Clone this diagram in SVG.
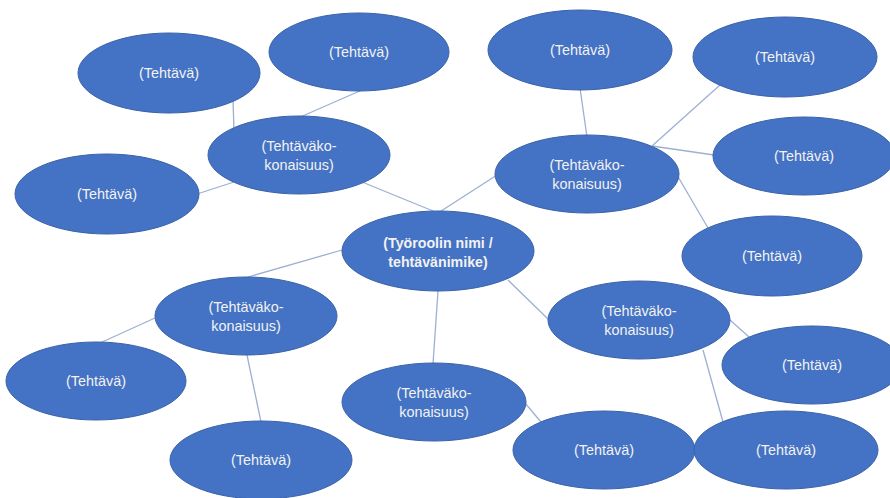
<svg xmlns="http://www.w3.org/2000/svg" width="890" height="498" viewBox="0 0 890 498">
<style>
.n{fill:#4472C4;stroke:#3A62A8;stroke-width:1}
.t{font-family:"Liberation Sans",Arial,sans-serif;font-size:14.4px;fill:#F2F2F2;text-anchor:middle}
.b{font-weight:bold;font-size:14.2px}
.c line{stroke:#9DB0D3;stroke-width:1.3}
</style>
<rect width="890" height="498" fill="#FFFFFF"/>
<g id="connectors" class="c">
<line x1="233" y1="100" x2="234" y2="130"/>
<line x1="298" y1="118" x2="362" y2="90"/>
<line x1="197" y1="194" x2="234" y2="182"/>
<line x1="362" y1="182" x2="438" y2="213"/>
<line x1="497" y1="175" x2="438" y2="213"/>
<line x1="580" y1="88" x2="587" y2="137"/>
<line x1="652" y1="146" x2="720" y2="85"/>
<line x1="652" y1="146" x2="714" y2="155"/>
<line x1="677" y1="175" x2="708" y2="228"/>
<line x1="342" y1="250" x2="248" y2="277"/>
<line x1="155" y1="318" x2="100" y2="343"/>
<line x1="247" y1="355" x2="261" y2="422"/>
<line x1="438" y1="291" x2="433" y2="364"/>
<line x1="508" y1="280" x2="549" y2="320"/>
<line x1="730" y1="320" x2="749" y2="337"/>
<line x1="703" y1="350" x2="723" y2="422"/>
<line x1="525" y1="403" x2="541" y2="422"/>
</g>
<g id="t1"><ellipse class="n" cx="169" cy="73" rx="91" ry="40"/><text class="t" x="169" y="78">(Tehtävä)</text></g>
<g id="t2"><ellipse class="n" cx="359" cy="52" rx="90" ry="39"/><text class="t" x="359" y="57">(Tehtävä)</text></g>
<g id="t3"><ellipse class="n" cx="107" cy="194" rx="92" ry="40"/><text class="t" x="107" y="199">(Tehtävä)</text></g>
<g id="t4"><ellipse class="n" cx="580" cy="50" rx="92" ry="40"/><text class="t" x="580" y="55">(Tehtävä)</text></g>
<g id="t5"><ellipse class="n" cx="785" cy="57" rx="92" ry="40"/><text class="t" x="785" y="62">(Tehtävä)</text></g>
<g id="t6"><ellipse class="n" cx="804" cy="156" rx="91" ry="39"/><text class="t" x="804" y="161">(Tehtävä)</text></g>
<g id="t7"><ellipse class="n" cx="772" cy="256" rx="90" ry="40"/><text class="t" x="772" y="261">(Tehtävä)</text></g>
<g id="t8"><ellipse class="n" cx="96" cy="381" rx="90" ry="39"/><text class="t" x="96" y="386">(Tehtävä)</text></g>
<g id="t9"><ellipse class="n" cx="261" cy="460" rx="91" ry="39"/><text class="t" x="261" y="465">(Tehtävä)</text></g>
<g id="t10"><ellipse class="n" cx="812" cy="365" rx="90" ry="39"/><text class="t" x="812" y="370">(Tehtävä)</text></g>
<g id="t11"><ellipse class="n" cx="604" cy="450" rx="91" ry="39"/><text class="t" x="604" y="455">(Tehtävä)</text></g>
<g id="t12"><ellipse class="n" cx="786" cy="450" rx="92" ry="39"/><text class="t" x="786" y="455">(Tehtävä)</text></g>
<g id="k1"><ellipse class="n" cx="299" cy="155" rx="91" ry="39"/><text class="t" x="299" y="151">(Tehtäväko-</text><text class="t" x="299" y="170">konaisuus)</text></g>
<g id="k2"><ellipse class="n" cx="587" cy="174" rx="92" ry="39"/><text class="t" x="587" y="170">(Tehtäväko-</text><text class="t" x="587" y="189">konaisuus)</text></g>
<g id="k3"><ellipse class="n" cx="246" cy="316" rx="91" ry="39"/><text class="t" x="246" y="312">(Tehtäväko-</text><text class="t" x="246" y="331">konaisuus)</text></g>
<g id="k4"><ellipse class="n" cx="434" cy="402" rx="92" ry="39"/><text class="t" x="434" y="398">(Tehtäväko-</text><text class="t" x="434" y="417">konaisuus)</text></g>
<g id="k5"><ellipse class="n" cx="639" cy="320" rx="91" ry="39"/><text class="t" x="639" y="316">(Tehtäväko-</text><text class="t" x="639" y="335">konaisuus)</text></g>
<g id="center"><ellipse class="n" cx="438" cy="251" rx="96" ry="40"/><text class="t b" x="438" y="248">(Työroolin nimi /</text><text class="t b" x="438" y="267">tehtävänimike)</text></g>
</svg>
